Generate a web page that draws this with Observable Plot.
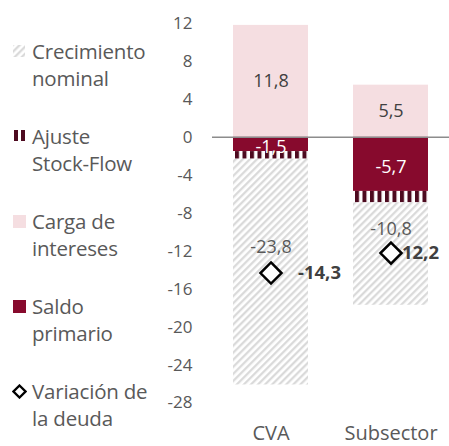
<!DOCTYPE html>
<html>
<head>
<meta charset="utf-8">
<script src="https://cdn.jsdelivr.net/npm/d3@7"></script>
<script src="https://cdn.jsdelivr.net/npm/@observablehq/plot@0.6"></script>
<style>
  html, body { margin: 0; padding: 0; background: #fff; }
  body { width: 449px; height: 446px; overflow: hidden; font-family: "Open Sans", Lato, sans-serif; }
  #wrap { display: flex; flex-direction: row; }
  #legend { width: 160px; padding-top: 38px; box-sizing: border-box; color: #595959; font-size: 20.5px; line-height: 27px; letter-spacing: -0.2px; }
  .item { position: relative; height: 85px; padding-left: 32px; white-space: nowrap; }
  .item svg { position: absolute; left: 12px; top: 6px; }
</style>
</head>
<body>
<div id="wrap">
  <div id="legend"></div>
  <div id="chart"></div>
</div>
<script>
// ---- data ----
const categories = ["CVA", "Subsector"];
const cargaIntereses = [11.8, 5.5];
const saldoPrimario = [-1.5, -5.7];
const ajusteStockFlow = [-0.8, -1.2];
const crecimientoNominal = [-23.8, -10.8];
const variacionDeuda = [-14.3, -12.2];
const yTicks = [12, 8, 4, 0, -4, -8, -12, -16, -20, -24, -28];
const seriesNames = ["Carga de intereses", "Saldo primario", "Ajuste Stock-Flow", "Crecimiento nominal"];

const fmt = v => String(v).replace(".", ",");

// stacked table (input order drives the stacking)
const table = [];
categories.forEach((c, i) => {
  table.push({cat: c, series: seriesNames[0], value: cargaIntereses[i]});
  table.push({cat: c, series: seriesNames[1], value: saldoPrimario[i]});
  table.push({cat: c, series: seriesNames[2], value: ajusteStockFlow[i]});
  table.push({cat: c, series: seriesNames[3], value: crecimientoNominal[i]});
});
const varData = categories.map((c, i) => ({cat: c, value: variacionDeuda[i]}));

const colors = ["#F5DEE1", "#870A2D", "url(#stripes)", "url(#hatch)"];
const textGray = "#595959";
const font = "'Open Sans', Lato, sans-serif";

const chart = Plot.plot({
  width: 289,
  height: 446,
  marginLeft: 52,
  marginRight: 0,
  marginTop: 23,
  marginBottom: 43.5,
  style: {fontFamily: font, background: "white"},
  x: {domain: categories, paddingInner: 0.375, paddingOuter: 0.175, label: null},
  y: {domain: [-28, 12], label: null},
  color: {domain: seriesNames, range: colors},
  marks: [
    Plot.barY(table, Plot.stackY({x: "cat", y: "value", fill: "series"})),
    Plot.ruleY([0], {stroke: "#8c8c8c", strokeWidth: 1.5}),
    Plot.text(table, Plot.stackY({x: "cat", y: "value", text: d => d.series === seriesNames[0] ? fmt(d.value) : null, fill: "#404040", fontSize: 18})),
    Plot.text(table, Plot.stackY({x: "cat", y: "value", text: d => d.series === seriesNames[1] ? fmt(d.value) : null, fill: "white", fontSize: 18, dy: 3})),
    Plot.text(table, Plot.stackY({x: "cat", y: "value", text: d => d.series === seriesNames[3] ? fmt(d.value) : null, fill: textGray, fontSize: 18, dy: -25})),
    Plot.text(varData, {filter: d => d.cat === categories[0], x: "cat", y: "value", text: d => fmt(d.value), textAnchor: "start", dx: 27, fill: "#404040", fontSize: 18.5, fontWeight: "bold"}),
    Plot.text(varData, {filter: d => d.cat === categories[1], x: "cat", y: "value", text: d => fmt(d.value), textAnchor: "start", dx: 5, fill: "#404040", fontSize: 18.5, fontWeight: "bold"}),
    Plot.dot(varData, {x: "cat", y: "value", symbol: "diamond2", r: 9.5, stroke: "black", strokeWidth: 2.5, fill: "white"}),
    Plot.axisY({ticks: yTicks, tickSize: 0, tickPadding: 20, fontSize: 17, fill: textGray, tickFormat: d => String(d)}),
    Plot.axisX({tickSize: 0, tickPadding: 23, fontSize: 20, fill: textGray})
  ]
});

// pattern definitions
const defs = `
<defs>
  <pattern id="hatch" patternUnits="userSpaceOnUse" width="5" height="5" patternTransform="rotate(45)">
    <rect width="5" height="5" fill="white"/>
    <line x1="1.2" y1="0" x2="1.2" y2="5" stroke="#d8d8d8" stroke-width="2.2"/>
  </pattern>
  <pattern id="stripes" patternUnits="userSpaceOnUse" width="7.5" height="10">
    <rect width="7.5" height="10" fill="white"/>
    <rect x="0" y="0" width="4" height="10" fill="#4d0a1f"/>
  </pattern>
</defs>`;
chart.insertAdjacentHTML("afterbegin", defs);
document.getElementById("chart").appendChild(chart);

// legend (left side)
const legendItems = [
  {lines: ["Crecimiento", "nominal"], sw: `<rect x="1" y="1" width="12" height="12" fill="url(#hatch)"/>`},
  {lines: ["Ajuste", "Stock-Flow"], sw: `<rect x="2" y="1" width="4" height="11" fill="#4d0a1f"/><rect x="9" y="1" width="4" height="11" fill="#4d0a1f"/>`},
  {lines: ["Carga de", "intereses"], sw: `<rect x="1" y="1" width="13" height="13" fill="#F5DEE1"/>`},
  {lines: ["Saldo", "primario"], sw: `<rect x="1" y="1" width="13" height="13" fill="#870A2D"/>`},
  {lines: ["Variación de", "la deuda"], sw: `<path d="M7.5,1.5 L13.5,7.5 L7.5,13.5 L1.5,7.5 Z" fill="white" stroke="black" stroke-width="2.3"/>`}
];
const legend = document.getElementById("legend");
legendItems.forEach(it => {
  const div = document.createElement("div");
  div.className = "item";
  div.innerHTML = `<svg width="15" height="15">${it.sw}</svg>` + it.lines.join("<br>");
  legend.appendChild(div);
});
</script>
</body>
</html>
